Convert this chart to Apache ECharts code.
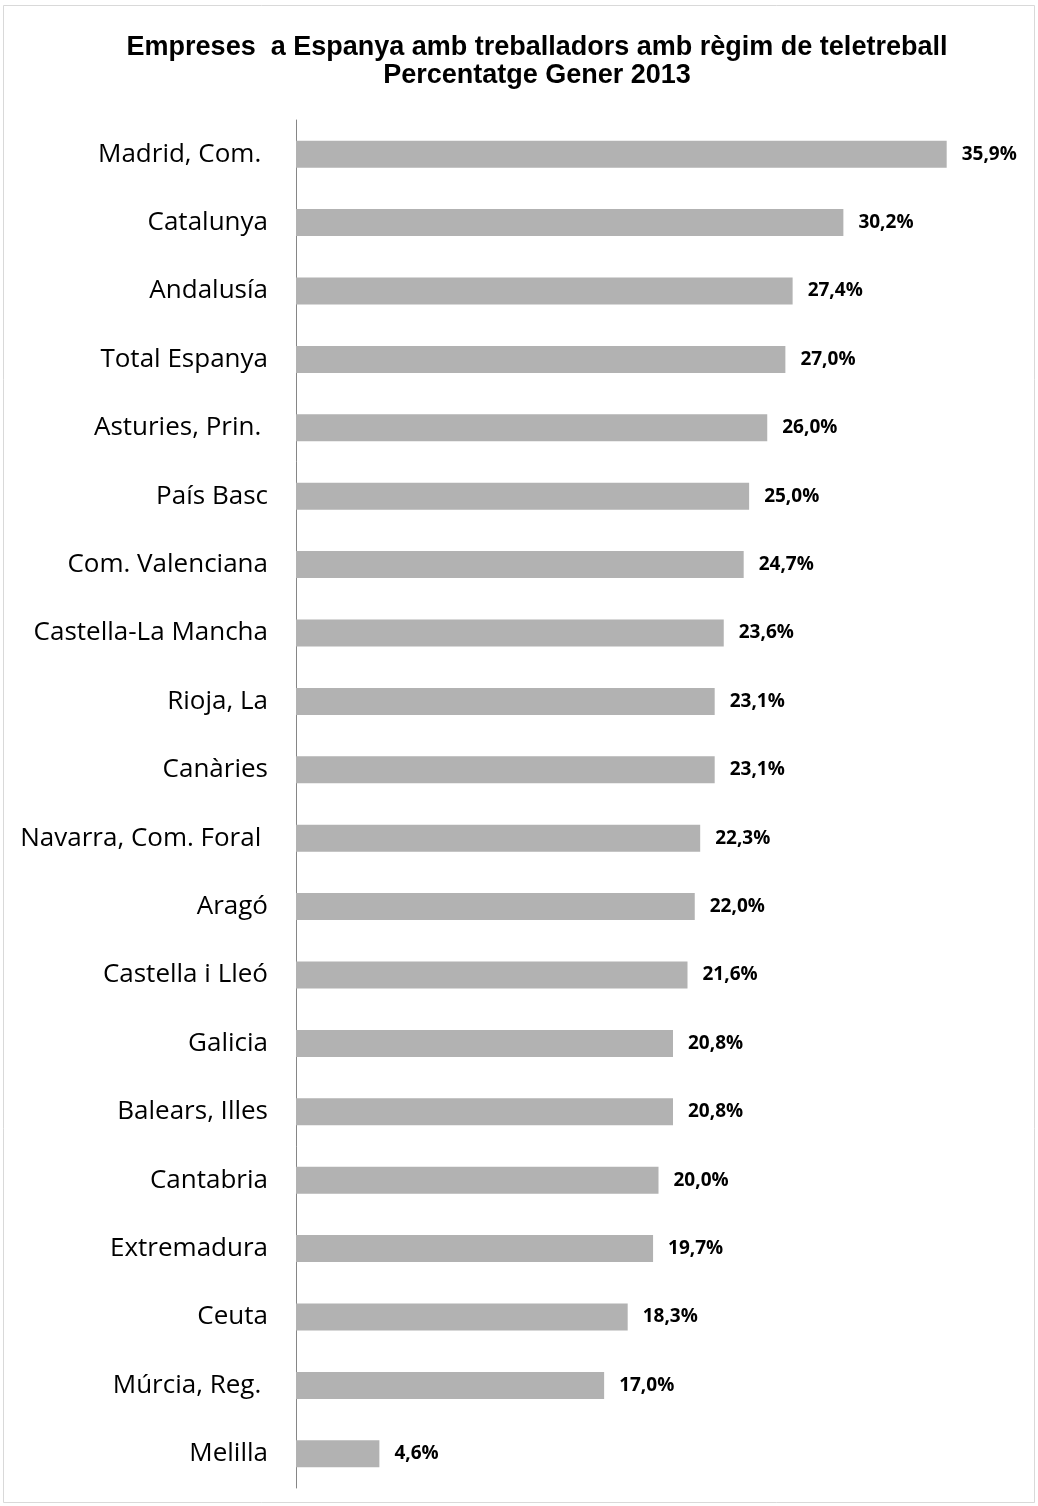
<!DOCTYPE html>
<html>
<head>
<meta charset="utf-8">
<script src="https://cdn.jsdelivr.net/npm/echarts@6/dist/echarts.min.js"></script>
<style>
  html, body { margin: 0; padding: 0; background: #fff; }
  #chart { width: 1038px; height: 1506px; }
</style>
</head>
<body>
<div id="chart"></div>
<script>
// categories top to bottom
const regions = [
  'Madrid, Com. ', 'Catalunya', 'Andalusía', 'Total Espanya', 'Asturies, Prin. ',
  'País Basc', 'Com. Valenciana', 'Castella-La Mancha', 'Rioja, La', 'Canàries',
  'Navarra, Com. Foral ', 'Aragó', 'Castella i Lleó', 'Galicia', 'Balears, Illes',
  'Cantabria', 'Extremadura', 'Ceuta', 'Múrcia, Reg. ', 'Melilla'
]
const percent = [
  35.9, 30.2, 27.4, 27.0, 26.0,
  25.0, 24.7, 23.6, 23.1, 23.1,
  22.3, 22.0, 21.6, 20.8, 20.8,
  20.0, 19.7, 18.3, 17.0, 4.6
]

const chart = echarts.init(document.getElementById('chart'))

chart.setOption({
  animation: false,
  backgroundColor: '#fff',
  title: {
    text: 'Empreses  a Espanya amb treballadors amb règim de teletreball\nPercentatge Gener 2013',
    left: 532,
    textAlign: 'center',
    top: 29,
    textStyle: {
      fontFamily: 'Liberation Sans, Arial',
      fontSize: 27,
      fontWeight: 'bold',
      color: '#000',
      lineHeight: 28,
    },
  },
  graphic: [{
    type: 'rect',
    shape: { x: 3.5, y: 5.5, width: 1031, height: 1497 },
    style: { fill: 'none', stroke: '#d9d9d9', lineWidth: 1 },
    silent: true,
  }],
  grid: {
    left: 296,
    top: 120,
    width: 725,
    height: 1368,
    containLabel: false,
  },
  xAxis: {
    type: 'value',
    min: 0,
    max: 40,
    show: false,
  },
  yAxis: {
    type: 'category',
    inverse: true,
    data: regions,
    axisLine: { show: true, lineStyle: { color: '#868686', width: 1 } },
    axisTick: { show: false },
    axisLabel: {
      margin: 28,
      fontFamily: 'Open Sans',
      fontSize: 26,
      color: '#000',
    },
  },
  series: [{
    type: 'bar',
    data: percent,
    barWidth: 27,
    itemStyle: { color: '#b2b2b2' },
    label: {
      show: true,
      position: 'right',
      distance: 15,
      fontFamily: 'Open Sans',
      fontSize: 19,
      fontWeight: 'bold',
      color: '#000',
      formatter: (p) => p.value.toFixed(1).replace('.', ',') + '%',
    },
  }],
})
</script>
</body>
</html>
